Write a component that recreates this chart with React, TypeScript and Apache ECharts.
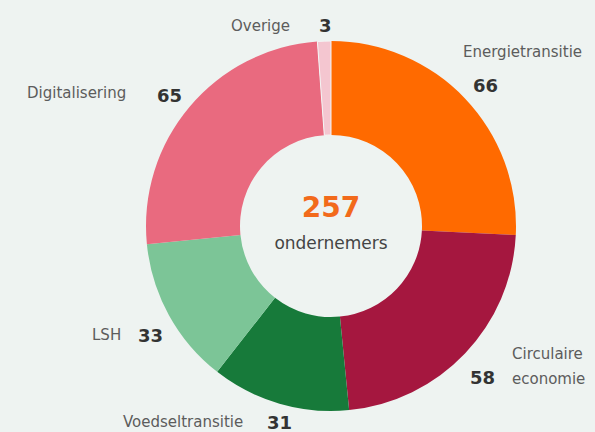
import React, { useEffect, useRef } from "react";
import * as echarts from "echarts";

const categories = ["Energietransitie", "Circulaire\neconomie", "Voedseltransitie", "LSH", "Digitalisering", "Overige"];
const values = [66, 58, 31, 33, 65, 3];
const colors = ["#ff6a00", "#a5173f", "#177a3a", "#7cc597", "#e96a7f", "#f4c6d0"];
const totalLabel = "257";
const totalCaption = "ondernemers";

// label layout: [nameX, nameY, valueX, valueY]
const labelPos = [
  [463, 52, 473, 85],
  [512, 366, 470, 377],
  [123, 422, 267, 422],
  [92, 335, 138, 335],
  [27, 93, 157, 95],
  [231, 26, 319, 25],
];

export default function App() {
  const ref = useRef<HTMLDivElement>(null);
  useEffect(() => {
    document.body.style.margin = "0";
    const chart = echarts.init(ref.current!, undefined, { renderer: "svg" });
    const graphics: any[] = [];
    categories.forEach((name, i) => {
      const p = labelPos[i];
      graphics.push({
        type: "text",
        x: p[0],
        y: p[1],
        style: {
          text: name,
          fill: "#5c5c5c",
          font: "15px 'DejaVu Sans'",
          textAlign: "left",
          textVerticalAlign: "middle",
          lineHeight: 25,
        },
      });
      graphics.push({
        type: "text",
        x: p[2],
        y: p[3],
        style: {
          text: String(values[i]),
          fill: "#333333",
          font: "bold 18px 'DejaVu Sans'",
          textAlign: "left",
          textVerticalAlign: "middle",
        },
      });
    });
    graphics.push({
      type: "text",
      x: 331,
      y: 207,
      style: {
        text: totalLabel,
        fill: "#f26a1b",
        font: "bold 28px 'DejaVu Sans'",
        textAlign: "center",
        textVerticalAlign: "middle",
      },
    });
    graphics.push({
      type: "text",
      x: 331,
      y: 243,
      style: {
        text: totalCaption,
        fill: "#444444",
        font: "17px 'DejaVu Sans'",
        textAlign: "center",
        textVerticalAlign: "middle",
      },
    });
    chart.setOption({
      animation: false,
      backgroundColor: "#eef3f1",
      series: [
        {
          type: "pie",
          center: [331, 226],
          radius: [91, 185],
          startAngle: 90,
          clockwise: true,
          label: { show: false },
          labelLine: { show: false },
          emphasis: { disabled: true },
          data: categories.map((c, i) => ({
            name: c,
            value: values[i],
            itemStyle:
              i === categories.length - 1
                ? { color: colors[i], borderColor: "#f4f6f5", borderWidth: 1 }
                : { color: colors[i] },
          })),
        },
      ],
      graphic: graphics,
    });
    return () => chart.dispose();
  }, []);
  return <div ref={ref} style={{ width: 595, height: 432 }} />;
}
